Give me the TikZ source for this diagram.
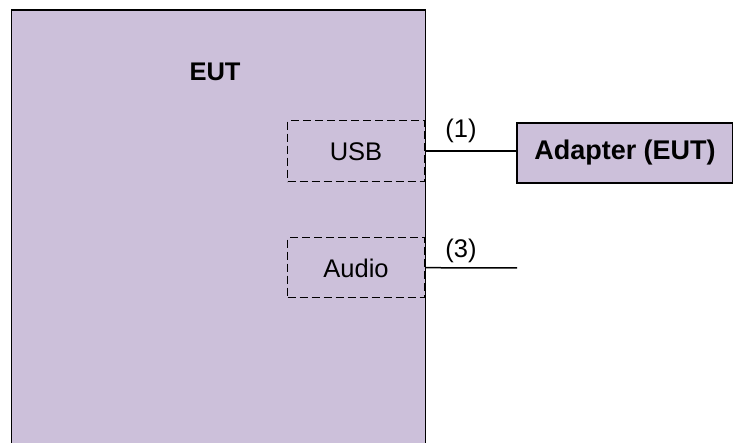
\documentclass[tikz,border=0pt]{standalone}
\usepackage{fontspec}
\setmainfont{Liberation Sans}
\definecolor{lav}{HTML}{CCC0DA}
\begin{document}
\begin{tikzpicture}[x=1pt,y=-1pt,
  mainbox/.style={draw=black,line width=1.8pt,fill=lav,anchor=north west,inner sep=0pt},
  portbox/.style={draw=black,line width=1.4pt,dash pattern=on 8pt off 4pt,anchor=north west,inner sep=0pt},
  lbl/.style={font=\fontsize{25.5}{29}\selectfont,inner sep=0pt},
  wire/.style={line width=1.5pt}]
\useasboundingbox (0,0) rectangle (733,443);
\clip (0,0) rectangle (733,443);
\node[mainbox,minimum width=414pt,minimum height=450pt] (eut) at (10.5,9.5) {};
\node[font=\bfseries\fontsize{25.5}{29}\selectfont,inner sep=0pt] (eutlbl) at (215,72) {EUT};
\node[portbox,minimum width=137pt,minimum height=61pt] (usb) at (287,120) {};
\node[lbl] (usbt) at (356,152) {USB};
\node[portbox,minimum width=137pt,minimum height=60pt] (audio) at (287,237) {};
\node[lbl] (audiot) at (356,268) {Audio};
\node[mainbox,minimum width=216pt,minimum height=60pt,line width=1.6pt] (adapter) at (516,122) {};
\node[font=\bfseries\fontsize{27}{31}\selectfont,inner sep=0pt] (adaptert) at (625,153) {Adapter (EUT)};
\coordinate (aend) at (517,268);
\draw[wire] (usb.east) -- (usb.east -| adapter.west);
\draw[wire] (audio.east) -- (aend);
\node[lbl] (l1) at (461,131) {(1)};
\node[lbl] (l3) at (461,251) {(3)};
\end{tikzpicture}
\end{document}
